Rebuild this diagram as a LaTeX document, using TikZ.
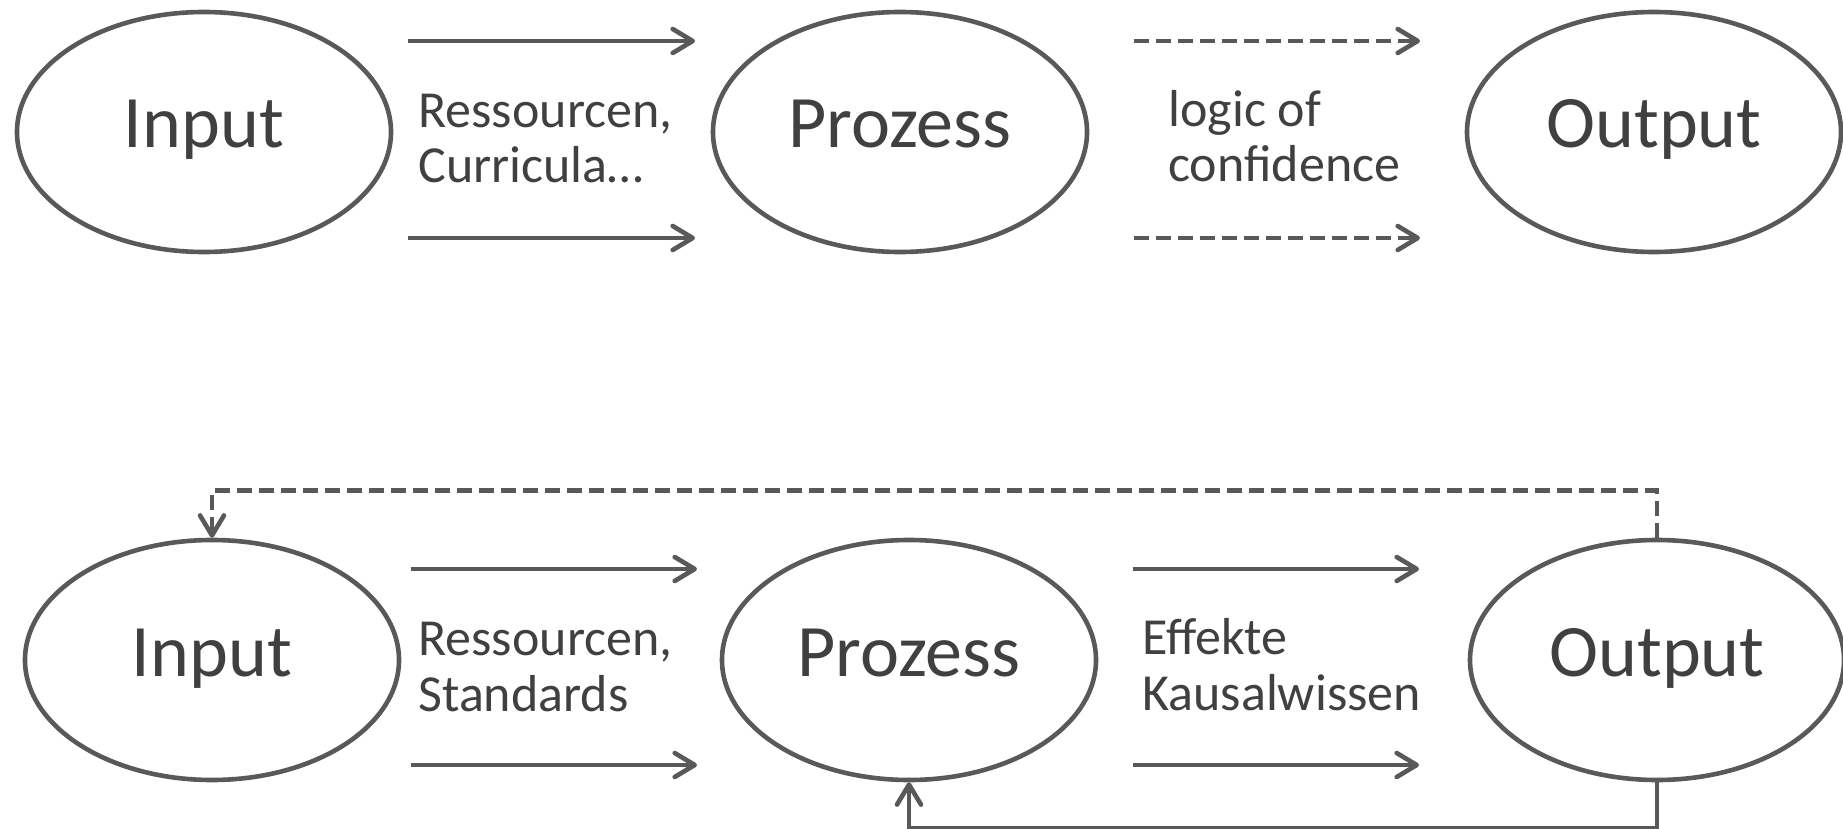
\documentclass[tikz,border=0pt]{standalone}
\usepackage{fontspec}
\setmainfont{Carlito}
\usetikzlibrary{arrows.meta,shapes.geometric}
\definecolor{linegray}{RGB}{89,89,89}
\definecolor{textgray}{RGB}{64,64,64}

\begin{document}
\begin{tikzpicture}[x=0.5pt, y=-0.5pt,
  stage/.style={ellipse, draw=linegray, line width=2.3pt, minimum width=187pt, minimum height=120pt,
    inner sep=0pt, text=textgray, text height=24pt, text depth=8pt, font=\fontsize{37}{44}\selectfont},
  flow/.style={draw=linegray, line width=2.3pt, -{Straight Barb[length=10pt,width=12pt,round]}},
  dashflow/.style={flow, dash pattern=on 7.5pt off 3.5pt},
  note/.style={anchor=base west, align=left, inner sep=0pt, text=textgray,
    font=\fontsize{26}{28}\selectfont}]

\useasboundingbox (0,0) rectangle (1843,829);

% Upper model
\node[stage] (in1) at (204,132) {Input};
\node[stage] (proz1) at (900,132) {Prozess};
\node[stage] (out1) at (1654,132) {Output};

\foreach \y in {41,238} {
  \coordinate (from) at (408,\y); \coordinate (to) at (695,\y);
  \draw[flow] (from) -- (to);
  \coordinate (from) at (1134,\y); \coordinate (to) at (1420,\y);
  \draw[dashflow] (from) -- (to);
}
\node[note] (res1) at (418,183) {Ressourcen,\\Curricula…};
\node[note] (logic) at (1168,182) {logic of\\confidence};

% Lower model
\node[stage] (in2) at (212,660) {Input};
\node[stage] (proz2) at (909,660) {Prozess};
\node[stage] (out2) at (1657,660) {Output};

\foreach \y in {569,765} {
  \coordinate (from) at (411,\y); \coordinate (to) at (697,\y);
  \draw[flow] (from) -- (to);
  \coordinate (from) at (1133,\y); \coordinate (to) at (1419,\y);
  \draw[flow] (from) -- (to);
}
\node[note] (res2) at (418,711) {Ressourcen,\\Standards};
\node[note] (effekte) at (1142,710) {Effekte\\Kausalwissen};

% Feedback loops
\draw[dashflow] (out2.north) -- ++(0,-47) -| (in2.north);
\draw[flow] (out2.south) -- ++(0,46) -| (proz2.south);

\end{tikzpicture}
\end{document}
